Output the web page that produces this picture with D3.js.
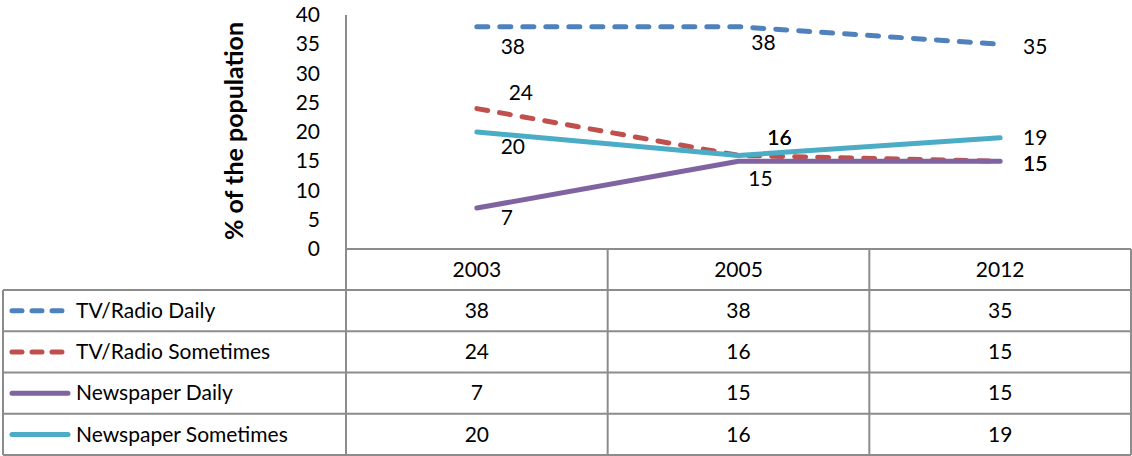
<!DOCTYPE html>
<html>
<head>
<meta charset="utf-8">
<script src="https://cdn.jsdelivr.net/npm/d3@7"></script>
<style>
  html, body { margin: 0; padding: 0; background: #fff; }
  svg { display: block; }
  text { font-family: Lato, "Open Sans", sans-serif; fill: #000; }
</style>
</head>
<body>
<svg id="chart" width="1132" height="456"></svg>
<script>
// ---- data ----
const years = ["2003", "2005", "2012"];
const seriesNames = ["TV/Radio Daily", "TV/Radio Sometimes", "Newspaper Daily", "Newspaper Sometimes"];
const tvRadioDaily = [38, 38, 35];
const tvRadioSometimes = [24, 16, 15];
const newspaperDaily = [7, 15, 15];
const newspaperSometimes = [20, 16, 19];
const yTicks = [0, 5, 10, 15, 20, 25, 30, 35, 40];
const yLabel = "% of the population";

// ---- styling / layout ----
const colors = ["#4F81BD", "#C0504D", "#8064A2", "#4BACC6"];
const dashed = [true, true, false, false];
const fontSize = "21px";
// data label offsets (pixels from the point), per series per year
const labelDx = [[36, 25, 35], [44, 41, 35], [30, 22, 35], [36, 41, 35]];
const labelDy = [[20, 16, 2], [-16, -18, 2], [10, 17, 2], [15, -18, 0]];

const seriesValues = [tvRadioDaily, tvRadioSometimes, newspaperDaily, newspaperSometimes];
const series = seriesNames.map((name, i) => ({ name, values: seriesValues[i], color: colors[i], dashed: dashed[i], i }));

const svg = d3.select("#chart");
const plotLeft = 346, plotRight = 1131, plotTop = 15, plotBottom = 249;
const tableBottom = 455, tableLeft = 3, firstRowTop = 290;
const gridColor = "#8c8c8c";

const x = d3.scaleBand().domain(years).range([plotLeft, plotRight]).padding(0);
const y = d3.scaleLinear().domain([0, 40]).range([plotBottom, plotTop]);
const cx = d => x(d) + x.bandwidth() / 2;

// y axis ticks
const yAxis = d3.axisLeft(y).tickValues(yTicks).tickSize(0).tickPadding(26);
const gy = svg.append("g").attr("transform", `translate(${plotLeft},0)`).call(yAxis);
gy.select(".domain").remove();
gy.selectAll("text").style("font-family", "Lato, sans-serif").style("font-size", fontSize).attr("fill", "#000");

// y label
svg.append("text")
  .attr("transform", `translate(243,131) rotate(-90)`)
  .attr("text-anchor", "middle")
  .style("font-size", "25px").style("font-weight", "bold")
  .text(yLabel);

// ---- table grid ----
const rowH = (tableBottom - firstRowTop) / 4;
const rowTops = [plotBottom, firstRowTop, firstRowTop + rowH, firstRowTop + 2 * rowH, firstRowTop + 3 * rowH, tableBottom];
const grid = svg.append("g").attr("stroke", gridColor).attr("stroke-width", 2).attr("fill", "none");
grid.append("line").attr("x1", plotLeft).attr("x2", plotLeft).attr("y1", plotTop).attr("y2", tableBottom);
years.forEach((yr, i) => {
  if (i > 0) grid.append("line").attr("x1", x(yr)).attr("x2", x(yr)).attr("y1", plotBottom).attr("y2", tableBottom);
});
grid.append("line").attr("x1", plotRight).attr("x2", plotRight).attr("y1", plotBottom).attr("y2", tableBottom);
grid.append("line").attr("x1", tableLeft).attr("x2", tableLeft).attr("y1", firstRowTop).attr("y2", tableBottom);
grid.append("line").attr("x1", plotLeft).attr("x2", plotRight).attr("y1", plotBottom).attr("y2", plotBottom);
rowTops.slice(1).forEach(ry => {
  grid.append("line").attr("x1", tableLeft).attr("x2", plotRight).attr("y1", ry).attr("y2", ry);
});

// header years
svg.append("g").selectAll("text").data(years).join("text")
  .attr("x", d => cx(d)).attr("y", (plotBottom + firstRowTop) / 2).attr("dy", "0.35em")
  .attr("text-anchor", "middle").style("font-size", fontSize).text(d => d);

// table rows
series.forEach((s, i) => {
  const ry = firstRowTop + rowH * (i + 0.5);
  const g = svg.append("g");
  g.append("line")
    .attr("x1", 12).attr("x2", s.dashed ? 66 : 68).attr("y1", ry).attr("y2", ry)
    .attr("stroke", s.color).attr("stroke-width", 5).attr("stroke-linecap", "round")
    .attr("stroke-dasharray", s.dashed ? "10,10" : null);
  g.append("text").attr("x", 76).attr("y", ry).attr("dy", "0.35em")
    .style("font-size", fontSize).text(s.name);
  g.selectAll("text.v").data(s.values).join("text").attr("class", "v")
    .attr("x", (d, j) => cx(years[j])).attr("y", ry).attr("dy", "0.35em")
    .attr("text-anchor", "middle").style("font-size", fontSize).text(d => d);
});

// ---- lines ----
const line = d3.line().x((d, j) => cx(years[j])).y(d => y(d));
const drawOrder = [0, 1, 3, 2];
drawOrder.forEach(k => {
  const s = series[k];
  svg.append("path").datum(s.values)
    .attr("d", line).attr("fill", "none")
    .attr("stroke", s.color).attr("stroke-width", 5)
    .attr("stroke-linecap", "round").attr("stroke-linejoin", "round")
    .attr("stroke-dasharray", s.dashed ? "11,12" : null);
});

// ---- data labels ----
series.forEach((s, i) => {
  svg.append("g").selectAll("text").data(s.values).join("text")
    .attr("x", (d, j) => cx(years[j]) + labelDx[i][j])
    .attr("y", (d, j) => y(d) + labelDy[i][j])
    .attr("dy", "0.35em").attr("text-anchor", "middle")
    .style("font-size", fontSize).text(d => d);
});
</script>
</body>
</html>
